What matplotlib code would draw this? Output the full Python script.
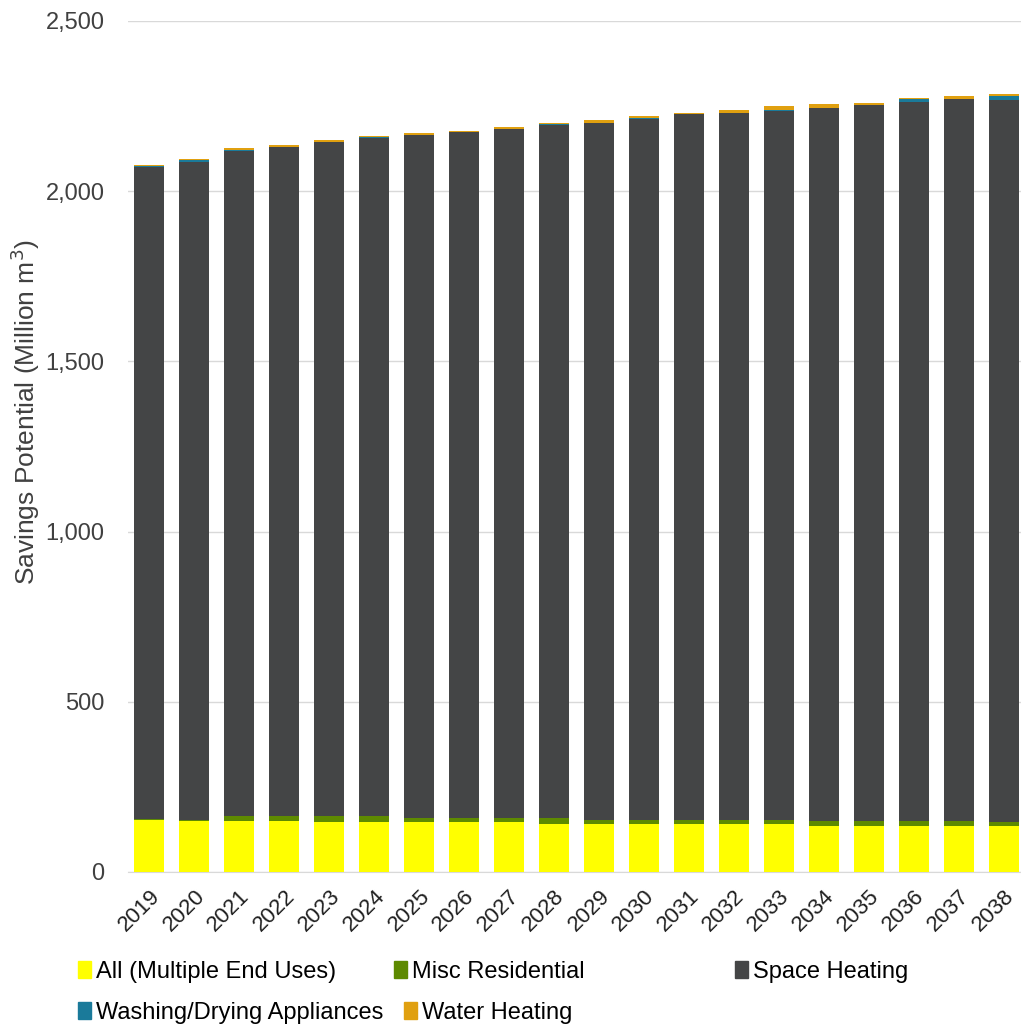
import numpy as np
import matplotlib.pyplot as plt
from matplotlib.patches import Patch

plt.rcParams['font.family'] = ['Liberation Sans', 'DejaVu Sans']

years = [str(y) for y in range(2019, 2039)]
totals = [2077, 2094, 2126, 2136, 2150, 2162, 2170, 2178, 2188, 2201,
          2209, 2222, 2230, 2240, 2250, 2256, 2259, 2274, 2280, 2285]
all_uses = [154, 150, 150, 150, 146, 146, 146, 146, 146, 140,
            140, 140, 140, 140, 140, 136, 136, 136, 136, 136]
misc_res = [2, 2, 15, 15, 18, 18, 13, 13, 13, 18,
            14, 14, 14, 14, 14, 15, 15, 15, 15, 10]
washing = [1, 7, 1, 1, 1, 1, 1, 1, 1, 1,
           1, 1, 1, 1, 1, 1, 1, 9, 1, 12]
water_heat = [4, 2, 6, 5, 4, 4, 4, 4, 4, 5,
              8, 8, 3, 10, 12, 12, 6, 4, 9, 4]
space_heat = [t - a - m - w - h for t, a, m, w, h in
              zip(totals, all_uses, misc_res, washing, water_heat)]

series = [
    ("All (Multiple End Uses)", all_uses, "#FFFF00"),
    ("Misc Residential", misc_res, "#5E8A00"),
    ("Space Heating", space_heat, "#444546"),
    ("Washing/Drying Appliances", washing, "#1A7A9A"),
    ("Water Heating", water_heat, "#E0A010"),
]
colors = {n: c for n, _, c in series}

W, H = 1021, 1029
fig = plt.figure(figsize=(W / 100, H / 100), dpi=100)
ax = fig.add_axes([128 / W, 1 - 872 / H, 1 - 128 / W, (872 - 21) / H])

x = np.arange(len(years))
bottom = np.zeros(len(years))
for name, vals, col in series:
    ax.bar(x, vals, 0.667, bottom=bottom, color=col, zorder=3, label=name)
    bottom += np.array(vals)

ax.set_ylim(0, 2500)
ax.set_xlim(-0.47, 19.38)
ax.set_yticks(range(0, 2501, 500))
ax.set_yticklabels([f"{v:,}" for v in range(0, 2501, 500)], fontsize=17, color="#404040")
ax.set_xticks(x)
ax.set_xticklabels(years, rotation=45, ha="right", rotation_mode="anchor",
                   fontsize=16, color="#202020")
ax.tick_params(axis="y", length=0, pad=17)
ax.tick_params(axis="x", length=0, pad=10)
ax.grid(axis="y", color="#D9D9D9", lw=1, zorder=0)
for s in ["top", "right", "left"]:
    ax.spines[s].set_visible(False)
ax.spines["bottom"].set_color("#D9D9D9")
fig.text(25 / W, 1 - 412 / H, "Savings Potential (Million m$^3$)", rotation=90,
         fontsize=19, color="#404040", ha="center", va="center")

# legend entries placed one by one, as in the original layout
legend_pos = [
    ("All (Multiple End Uses)", 78, 972),
    ("Washing/Drying Appliances", 78, 1013),
    ("Misc Residential", 394, 972),
    ("Water Heating", 404, 1013),
    ("Space Heating", 735, 972),
]
for name, px, py in legend_pos:
    fig.legend(handles=[Patch(color=colors[name], label=name)], loc="center left",
               bbox_to_anchor=(px / W, 1 - py / H), frameon=False, fontsize=17,
               handlelength=0.55, handleheight=0.7, handletextpad=0.2,
               borderaxespad=0, borderpad=0)

fig.savefig("out.png", dpi=100)
